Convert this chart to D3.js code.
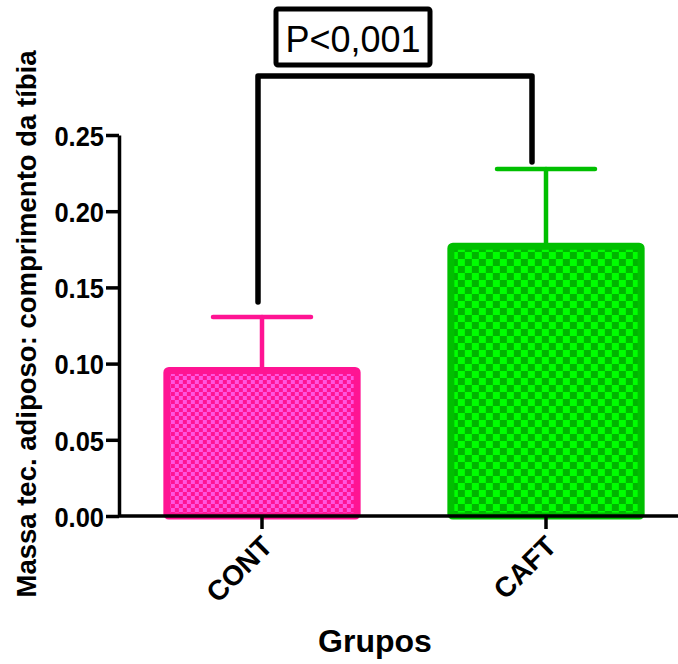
<!DOCTYPE html>
<html>
<head>
<meta charset="utf-8">
<script src="https://cdn.jsdelivr.net/npm/d3@7"></script>
<style>
  html, body { margin: 0; padding: 0; background: #fff; }
  svg { display: block; }
  text { font-family: "Liberation Sans", Arial, sans-serif; }
</style>
</head>
<body>
<svg id="chart" width="678" height="664"></svg>
<script>
// Groups, means and upper error (mean + SEM)
const groups = ["CONT", "CAFT"];
const means = [0.0955, 0.177];
const errorTops = [0.1306, 0.2277];
const yTicks = [0.00, 0.05, 0.10, 0.15, 0.20, 0.25];
const pLabel = "P<0,001";

const strokeColors = ["#ff1493", "#00bf00"];
const cellLight = ["#ff55e0", "#00ff00"];
const cellDark = ["#ff1493", "#00b400"];
const cellSize = [4, 7];

const svg = d3.select("#chart");

const y = d3.scaleLinear().domain([0, 0.25]).range([516, 135]);
const x = d3.scaleBand().domain(groups).range([120, 688])
  .paddingInner(0.33).paddingOuter(0.165);

// Checkerboard fill patterns
const defs = svg.append("defs");
groups.forEach((g, i) => {
  const s = cellSize[i];
  const p = defs.append("pattern")
    .attr("id", "chk" + i)
    .attr("patternUnits", "userSpaceOnUse")
    .attr("width", s * 2).attr("height", s * 2)
    .attr("x", x(g)).attr("y", 0);
  p.append("rect").attr("width", s * 2).attr("height", s * 2).attr("fill", cellDark[i]);
  p.append("rect").attr("width", s).attr("height", s).attr("fill", cellLight[i]);
  p.append("rect").attr("x", s).attr("y", s).attr("width", s).attr("height", s).attr("fill", cellLight[i]);
});

// Error bars (upper only), drawn beneath the bars
const capHalf = 49;
groups.forEach((g, i) => {
  const cx = x(g) + x.bandwidth() / 2;
  const eg = svg.append("g")
    .attr("stroke", strokeColors[i]).attr("stroke-width", 4.5)
    .attr("stroke-linecap", "round").attr("fill", "none");
  eg.append("line").attr("x1", cx).attr("x2", cx).attr("y1", y(means[i])).attr("y2", y(errorTops[i]));
  eg.append("line").attr("x1", cx - capHalf).attr("x2", cx + capHalf)
    .attr("y1", y(errorTops[i])).attr("y2", y(errorTops[i]));
});

// Bars
svg.append("g").selectAll("rect")
  .data(groups)
  .join("rect")
  .attr("x", d => x(d))
  .attr("width", x.bandwidth())
  .attr("y", (d, i) => y(means[i]))
  .attr("height", (d, i) => y(0) - y(means[i]))
  .attr("rx", 2)
  .attr("fill", (d, i) => `url(#chk${i})`)
  .attr("stroke", (d, i) => strokeColors[i])
  .attr("stroke-width", 7);

// Y axis
const yAxis = svg.append("g")
  .attr("transform", "translate(119,0)")
  .call(d3.axisLeft(y).tickValues(yTicks).tickFormat(d3.format(".2f")).tickSize(13).tickSizeOuter(0));
yAxis.select(".domain").attr("stroke", "#000").attr("stroke-width", 3.5);
yAxis.selectAll(".tick line").attr("stroke", "#000").attr("stroke-width", 3.5);
yAxis.selectAll(".tick text")
  .attr("font-size", 25.5).attr("font-weight", "bold").attr("fill", "#000")
  .attr("x", -15).attr("dy", "0.36em")
  .attr("transform", "scale(1,1.12)");

// X axis
const xAxis = svg.append("g")
  .attr("transform", `translate(0,${y(0)})`)
  .call(d3.axisBottom(x).tickSize(13).tickSizeOuter(0));
xAxis.select(".domain").attr("d", `M118,0H678`).attr("stroke", "#000").attr("stroke-width", 3.5);
xAxis.selectAll(".tick line").attr("stroke", "#000").attr("stroke-width", 3.5);
xAxis.selectAll(".tick text")
  .attr("font-size", 28).attr("font-weight", "bold").attr("fill", "#000")
  .attr("text-anchor", "end")
  .attr("dy", 0)
  .attr("transform", "translate(12,32) rotate(-45)")
  .attr("x", 0).attr("y", 0);

// Axis titles
svg.append("text")
  .attr("transform", `translate(36,${324}) rotate(-90)`)
  .attr("text-anchor", "middle")
  .attr("font-size", 27.5).attr("font-weight", "bold")
  .text("Massa tec. adiposo: comprimento da tíbia");

svg.append("text")
  .attr("x", 375).attr("y", 652)
  .attr("text-anchor", "middle")
  .attr("font-size", 32).attr("font-weight", "bold")
  .text("Grupos");

// Significance bracket
const xL = x("CONT") + x.bandwidth() / 2 - 4;
const xR = x("CAFT") + x.bandwidth() / 2 - 14;
const yTop = 76;
svg.append("path")
  .attr("d", `M${xL},${y(errorTops[0]) - 15}V${yTop}H${xR}V${y(errorTops[1]) - 7}`)
  .attr("fill", "none").attr("stroke", "#000").attr("stroke-width", 5.5)
  .attr("stroke-linecap", "round").attr("stroke-linejoin", "round");

// P value label in a box
svg.append("rect")
  .attr("x", 276).attr("y", 9).attr("width", 154).attr("height", 56)
  .attr("rx", 2)
  .attr("fill", "#fff").attr("stroke", "#000").attr("stroke-width", 5);
svg.append("text")
  .attr("x", 353).attr("y", 52)
  .attr("text-anchor", "middle")
  .attr("font-size", 36)
  .text(pLabel);
</script>
</body>
</html>
